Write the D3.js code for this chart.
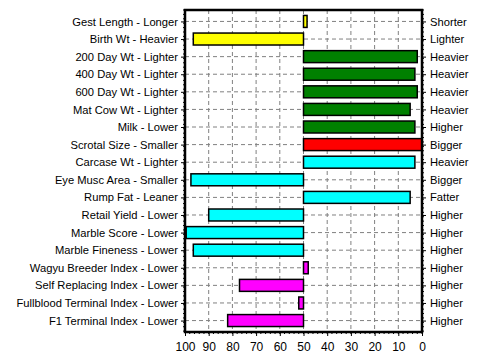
<!DOCTYPE html>
<html><head><meta charset="utf-8">
<script src="https://cdn.jsdelivr.net/npm/d3@7"></script>
<style>body{margin:0;background:#fff}svg{display:block}text{font-family:"Liberation Sans",Arial,sans-serif;font-size:11px;fill:#000}</style>
</head><body><div id="chart"></div>
<script>
const leftLabels = ["Gest Length - Longer","Birth Wt - Heavier","200 Day Wt - Lighter","400 Day Wt - Lighter","600 Day Wt - Lighter","Mat Cow Wt - Lighter","Milk - Lower","Scrotal Size - Smaller","Carcase Wt - Lighter","Eye Musc Area - Smaller","Rump Fat - Leaner","Retail Yield - Lower","Marble Score - Lower","Marble Fineness - Lower","Wagyu Breeder Index - Lower","Self Replacing Index - Lower","Fullblood Terminal Index - Lower","F1 Terminal Index - Lower"];
const rightLabels = ["Shorter","Lighter","Heavier","Heavier","Heavier","Heavier","Higher","Bigger","Heavier","Bigger","Fatter","Higher","Higher","Higher","Higher","Higher","Higher","Higher"];
const values = [48.5,96.5,2,3,2,5,3,0,3,97.5,5,90,99.5,96.5,48,77,52,82];
const colors = ["#ffff00","#ffff00","#008000","#008000","#008000","#008000","#008000","#ff0000","#00ffff","#00ffff","#00ffff","#00ffff","#00ffff","#00ffff","#ff00ff","#ff00ff","#ff00ff","#ff00ff"];
const xTicks = [100,90,80,70,60,50,40,30,20,10,0];
const center = 50;

const W=487,H=359;
const m={l:185,r:65,t:10,b:27};
const svg=d3.select("#chart").append("svg").attr("width",W).attr("height",H);
const x=d3.scaleLinear().domain([100,0]).range([m.l,W-m.r]);
const idx=d3.range(leftLabels.length);
const y=d3.scalePoint().domain(idx).range([m.t,H-m.b]).padding(0.65);
const step=y.step();
const bh=step*0.68;

// grid
const g=svg.append("g");
g.selectAll(".vg").data(xTicks.filter(t=>t>0&&t<100)).join("line")
 .attr("x1",d=>x(d)).attr("x2",d=>x(d)).attr("y1",m.t).attr("y2",H-m.b)
 .attr("stroke","#808080").attr("stroke-dasharray","4,3");
g.selectAll(".hg").data(idx).join("line")
 .attr("x1",m.l).attr("x2",W-m.r).attr("y1",d=>y(d)).attr("y2",d=>y(d))
 .attr("stroke","#808080").attr("stroke-dasharray","4,3");

// bars
svg.selectAll(".bar").data(idx).join("rect")
 .attr("x",i=>Math.min(x(values[i]),x(center)))
 .attr("width",i=>Math.abs(x(values[i])-x(center)))
 .attr("y",i=>y(i)-bh/2).attr("height",bh)
 .attr("fill",i=>colors[i]).attr("stroke","#000").attr("stroke-width",1.5);

// axes
const left=svg.append("g").attr("transform",`translate(${m.l},0)`)
 .call(d3.axisLeft(y).tickFormat(i=>leftLabels[i]).tickSize(4).tickPadding(3));
const right=svg.append("g").attr("transform",`translate(${W-m.r},0)`)
 .call(d3.axisRight(y).tickFormat(i=>rightLabels[i]).tickSize(4).tickPadding(4));
const bottom=svg.append("g").attr("transform",`translate(0,${H-m.b})`)
 .call(d3.axisBottom(x).tickValues(xTicks).tickFormat(d3.format("d")).tickSize(4).tickPadding(4));
[left,right,bottom].forEach(a=>{a.select(".domain").remove();a.selectAll("text").style("font-size","11.2px").attr("fill","#000");});
bottom.selectAll("text").style("font-size","12px").attr("dy","0.9em");

// minor ticks
const minorY=d3.range(m.t,H-m.b,step/4);
svg.append("g").selectAll("line").data(minorY).join("line")
 .attr("x1",m.l-2).attr("x2",m.l).attr("y1",d=>d).attr("y2",d=>d).attr("stroke","#000");
svg.append("g").selectAll("line").data(minorY).join("line")
 .attr("x1",W-m.r).attr("x2",W-m.r+2).attr("y1",d=>d).attr("y2",d=>d).attr("stroke","#000");
svg.append("g").selectAll("line").data(d3.range(0,100,2)).join("line")
 .attr("x1",d=>x(d)).attr("x2",d=>x(d)).attr("y1",H-m.b).attr("y2",H-m.b+2).attr("stroke","#000");

// frame
svg.append("rect").attr("x",m.l).attr("y",m.t).attr("width",W-m.r-m.l).attr("height",H-m.b-m.t)
 .attr("fill","none").attr("stroke","#000").attr("stroke-width",2.5);
</script></body></html>
